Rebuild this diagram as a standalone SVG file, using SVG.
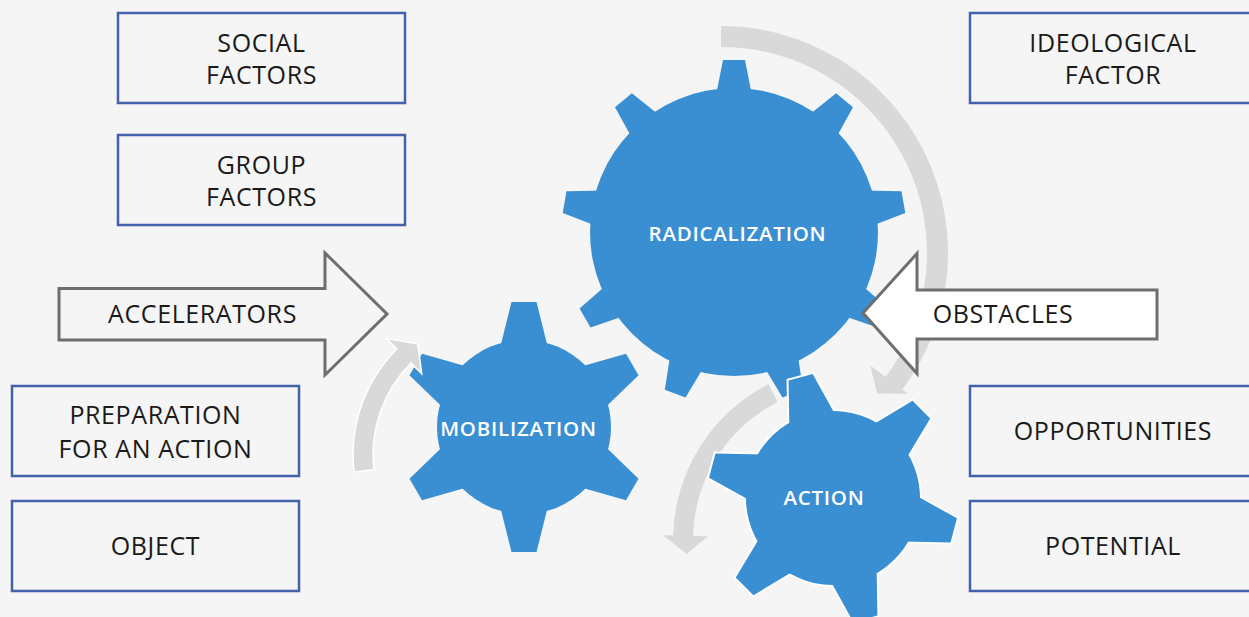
<svg xmlns="http://www.w3.org/2000/svg" xmlns:xlink="http://www.w3.org/1999/xlink" width="1249" height="617" viewBox="0 0 1249 617">
<style>
.box{fill:none;stroke:#4462ab;stroke-width:2.5}
.lbl{font-family:"Open Sans","Liberation Sans",sans-serif;font-size:25px;fill:#1a1a1a;text-anchor:middle;font-weight:400;letter-spacing:0.6px}
.glbl{font-family:"Open Sans","Liberation Sans",sans-serif;font-size:20.5px;font-weight:600;fill:#ffffff;text-anchor:middle;letter-spacing:0.75px}
.gear{fill:#3a8fd3}
.garrow{fill:#d9d9d9}
.block{stroke:#6e6e6e;stroke-width:3;stroke-linejoin:miter}
</style>
<defs>
<polygon id="tooth9" points="-18.3,-135 -11,-172 11,-172 18.3,-135"/>
<polygon id="tooth6" points="-24.25,-78 -12.5,-125 12.5,-125 24.25,-78"/>
<g id="gear9">
<circle r="144"/>
<use xlink:href="#tooth9"/>
<use xlink:href="#tooth9" transform="rotate(40)"/>
<use xlink:href="#tooth9" transform="rotate(80)"/>
<use xlink:href="#tooth9" transform="rotate(120)"/>
<use xlink:href="#tooth9" transform="rotate(160)"/>
<use xlink:href="#tooth9" transform="rotate(200)"/>
<use xlink:href="#tooth9" transform="rotate(240)"/>
<use xlink:href="#tooth9" transform="rotate(280)"/>
<use xlink:href="#tooth9" transform="rotate(320)"/>
</g>
<g id="gear6">
<circle r="87"/>
<use xlink:href="#tooth6"/>
<use xlink:href="#tooth6" transform="rotate(60)"/>
<use xlink:href="#tooth6" transform="rotate(120)"/>
<use xlink:href="#tooth6" transform="rotate(180)"/>
<use xlink:href="#tooth6" transform="rotate(240)"/>
<use xlink:href="#tooth6" transform="rotate(300)"/>
</g>
</defs>
<rect x="0" y="0" width="1249" height="617" fill="#f5f5f5"/>

<g id="radicalization">
<use xlink:href="#gear9" class="gear" transform="translate(734,232)"/>
<text class="glbl" x="737.5" y="240.7">RADICALIZATION</text>
</g>

<g id="mobilization">
<use xlink:href="#gear6" class="gear" transform="translate(524,427)"/>
<text class="glbl" x="518.5" y="435.7">MOBILIZATION</text>
</g>

<g id="connectors">
<path class="garrow" d="M 721,26 A 227 227 0 0 1 902.3,389.6 L 907.9,393.8 L 877.1,393.5 L 870.3,365.5 L 885.5,377.0 A 206 206 0 0 0 721,47 Z"/>
<path class="garrow" stroke="#ffffff" stroke-width="1.5" d="M 354.0,472.0 A 150 150 0 0 1 396.9,348.9 L 386.3,338.3 L 417.8,343.9 L 421.7,373.7 L 411.1,363.1 A 130 130 0 0 0 373.8,469.7 Z"/>
<path class="garrow" d="M 768.5,384.1 A 175 175 0 0 0 673.1,535.4 L 663.1,535.2 L 686.6,554.1 L 708.0,536.3 L 693.1,535.9 A 155 155 0 0 1 777.6,401.9 Z"/>
</g>

<g id="action">
<use xlink:href="#gear6" transform="translate(833,498) rotate(-15)" fill="#3a8fd3" stroke="#ffffff" stroke-width="4"/>
<use xlink:href="#gear6" class="gear" transform="translate(833,498) rotate(-15)"/>
<text class="glbl" x="824" y="505">ACTION</text>
</g>

<g id="accelerators">
<polygon class="block" fill="#f5f5f5" points="59,288.5 325,288.5 325,253 387,314 325,375 325,340 59,340"/>
<text class="lbl" x="202.5" y="322.7">ACCELERATORS</text>
</g>

<g id="obstacles">
<polygon class="block" fill="#ffffff" points="1157,290 917,290 917,253.5 863,313 917,373.5 917,339 1157,339"/>
<text class="lbl" x="1003" y="322.7">OBSTACLES</text>
</g>

<g id="social-factors">
<rect class="box" x="118" y="13" width="287" height="90"/>
<text class="lbl" x="261.5" y="52">SOCIAL</text>
<text class="lbl" x="261.5" y="84">FACTORS</text>
</g>

<g id="group-factors">
<rect class="box" x="118" y="135" width="287" height="90"/>
<text class="lbl" x="261.5" y="174">GROUP</text>
<text class="lbl" x="261.5" y="206">FACTORS</text>
</g>

<g id="ideological-factor">
<rect class="box" x="970" y="13" width="287" height="90"/>
<text class="lbl" x="1113" y="52">IDEOLOGICAL</text>
<text class="lbl" x="1113" y="84">FACTOR</text>
</g>

<g id="preparation">
<rect class="box" x="12" y="386" width="287" height="90"/>
<text class="lbl" x="155.5" y="424">PREPARATION</text>
<text class="lbl" x="155.5" y="457.7">FOR AN ACTION</text>
</g>

<g id="object">
<rect class="box" x="12" y="501" width="287" height="90"/>
<text class="lbl" x="155.5" y="555">OBJECT</text>
</g>

<g id="opportunities">
<rect class="box" x="970" y="386" width="287" height="90"/>
<text class="lbl" x="1113" y="440">OPPORTUNITIES</text>
</g>

<g id="potential">
<rect class="box" x="970" y="501" width="287" height="90"/>
<text class="lbl" x="1113" y="555">POTENTIAL</text>
</g>
</svg>
